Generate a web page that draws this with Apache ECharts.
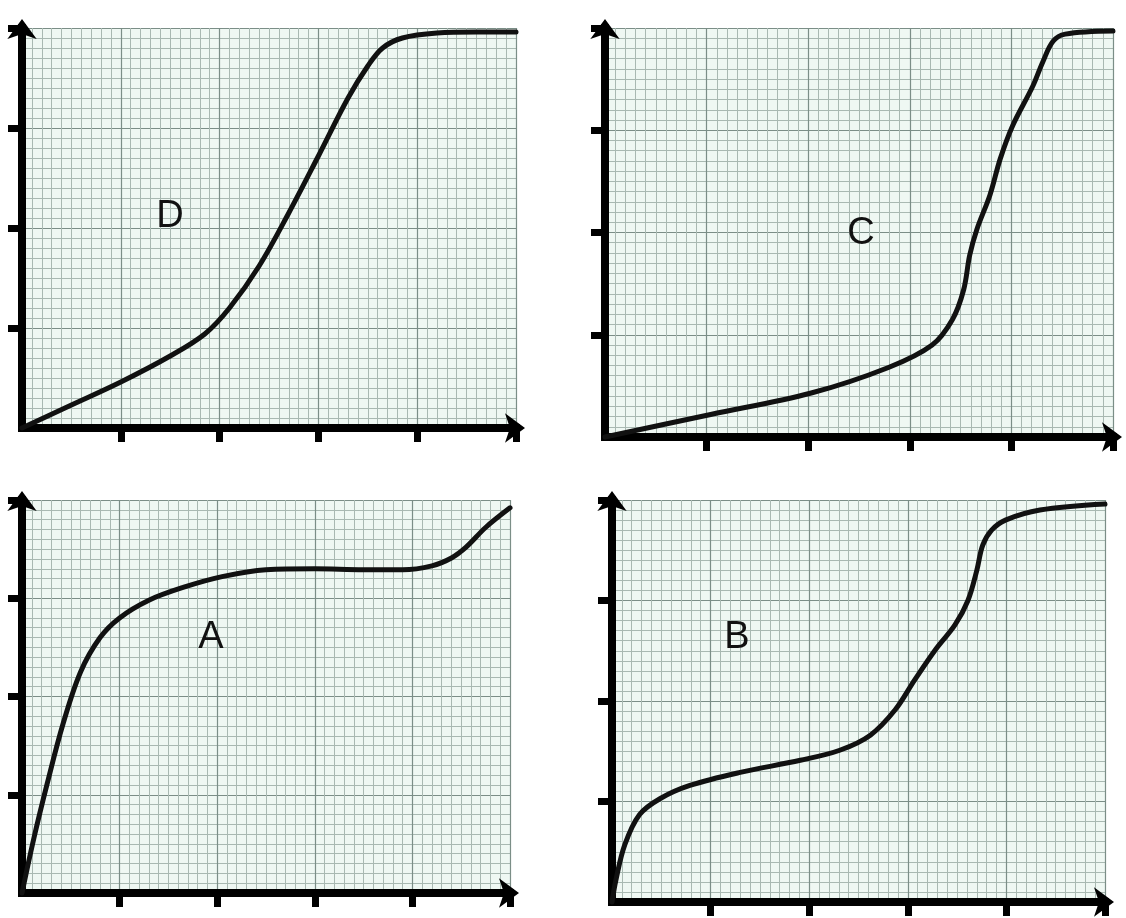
<!DOCTYPE html>
<html>
<head>
<meta charset="utf-8">
<script src="https://cdn.jsdelivr.net/npm/echarts@6/dist/echarts.min.js"></script>
<style>
  html, body { margin: 0; padding: 0; background: #ffffff; }
  #chart { width: 1126px; height: 918px; }
</style>
</head>
<body>
<div id="chart"></div>
<script>
// Curve labels, one per panel
const panelNames = ['D', 'C', 'A', 'B'];

// Curve D (top left)
const xD = [0, 0.5, 1.0, 1.5, 1.85, 2.1, 2.4, 2.7, 3.0, 3.3, 3.5, 3.65, 3.85, 4.2, 4.6, 5.0];
const yD = [0, 0.23, 0.46, 0.72, 0.94, 1.2, 1.62, 2.15, 2.72, 3.3, 3.62, 3.8, 3.9, 3.95, 3.96, 3.96];

// Curve C (top right)
const xC = [0, 1.04, 2.03, 2.79, 3.22, 3.42, 3.53, 3.59, 3.66, 3.79, 3.89, 4.01, 4.21, 4.31, 4.41, 4.53, 5.0];
const yC = [0, 0.22, 0.43, 0.68, 0.90, 1.15, 1.44, 1.78, 2.03, 2.37, 2.72, 3.04, 3.43, 3.67, 3.87, 3.94, 3.97];

// Curve A (bottom left)
const xA = [0, 0.12, 0.26, 0.42, 0.6, 0.8, 1.0, 1.3, 1.65, 2.05, 2.5, 3.0, 3.5, 3.9, 4.2, 4.4, 4.55, 4.75, 5.0];
const yA = [0, 0.55, 1.12, 1.72, 2.25, 2.6, 2.8, 2.98, 3.11, 3.22, 3.29, 3.30, 3.29, 3.29, 3.33, 3.41, 3.52, 3.72, 3.92];

// Curve B (bottom right)
const xB = [0, 0.04, 0.13, 0.28, 0.49, 0.79, 1.30, 1.91, 2.31, 2.62, 2.87, 3.07, 3.28, 3.48, 3.61, 3.70, 3.76, 3.85, 3.99, 4.34, 5.0];
const yB = [0, 0.22, 0.57, 0.87, 1.03, 1.16, 1.29, 1.41, 1.51, 1.66, 1.91, 2.21, 2.51, 2.76, 3.0, 3.30, 3.55, 3.70, 3.80, 3.90, 3.96];

// Axis extents and major tick positions (graph-paper units)
const xMax = 5, yMax = 4;
const xTickValues = [1, 2, 3, 4, 5];
const yTickValues = [1, 2, 3, 4];

const curves = [[xD, yD], [xC, yC], [xA, yA], [xB, yB]];

// Panel boxes in pixels
const boxes = [
  { left: 22,  top: 28,  width: 494, height: 400 },
  { left: 605, top: 28,  width: 508, height: 409 },
  { left: 22,  top: 500, width: 488, height: 393 },
  { left: 612, top: 500, width: 493, height: 402 }
];
const letterPos = [[170, 217], [861, 234], [211, 638], [737, 638]];

const paper = '#eff8f3';
const minorColor = '#a9b9b2';
const majorColor = '#7b8e87';

function axisCommon(isX) {
  return {
    type: 'value',
    min: 0,
    max: isX ? xMax : yMax,
    interval: 1,
    axisLine: {
      show: true,
      onZero: false,
      symbol: ['none', 'arrow'],
      symbolSize: [22, 20],
      symbolOffset: [0, 9],
      lineStyle: { color: '#000', width: 8, cap: 'square' }
    },
    axisTick: {
      show: true,
      inside: false,
      length: 14,
      customValues: isX ? xTickValues : yTickValues,
      lineStyle: { color: '#000', width: 7 }
    },
    axisLabel: { show: false },
    splitLine: { show: true, lineStyle: { color: majorColor, width: 1.2 } },
    minorTick: { show: false, splitNumber: 10 },
    minorSplitLine: { show: true, lineStyle: { color: minorColor, width: 1 } }
  };
}

const grid = boxes.map(b => Object.assign({
  show: true,
  backgroundColor: paper,
  borderWidth: 0,
  containLabel: false
}, b));

const xAxis = boxes.map((b, i) => Object.assign(axisCommon(true), { gridIndex: i, position: 'bottom' }));
const yAxis = boxes.map((b, i) => Object.assign(axisCommon(false), { gridIndex: i, position: 'left' }));

const series = curves.map((c, i) => ({
  type: 'line',
  xAxisIndex: i,
  yAxisIndex: i,
  data: c[0].map((x, k) => [x, c[1][k]]),
  smooth: 0.35,
  showSymbol: false,
  symbol: 'none',
  clip: false,
  z: 5,
  lineStyle: { color: '#111', width: 5, cap: 'round', join: 'round' }
}));

const graphic = panelNames.map((name, i) => ({
  type: 'text',
  x: letterPos[i][0],
  y: letterPos[i][1],
  z: 10,
  style: {
    text: name,
    fill: '#111',
    font: '38px "Liberation Sans", Arial, sans-serif',
    textAlign: 'center',
    textVerticalAlign: 'middle'
  }
}));

const chart = echarts.init(document.getElementById('chart'), null, { renderer: 'canvas' });
chart.setOption({
  backgroundColor: '#ffffff',
  animation: false,
  grid,
  xAxis,
  yAxis,
  series,
  graphic
});
</script>
</body>
</html>
